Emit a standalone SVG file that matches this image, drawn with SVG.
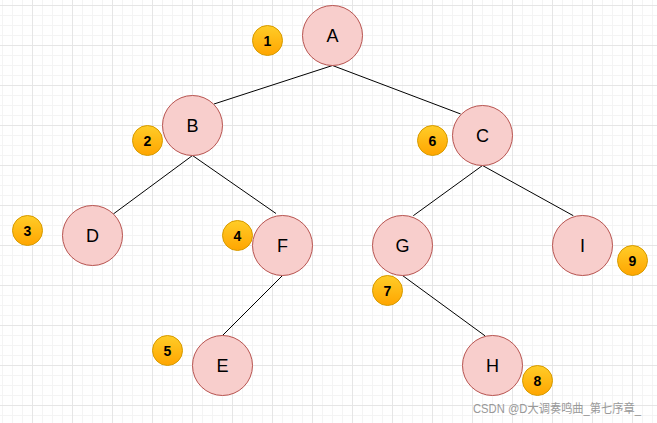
<svg xmlns="http://www.w3.org/2000/svg" width="657" height="423" viewBox="0 0 657 423">
<style>
.node circle{fill:#f8cecc;stroke:#b85450;stroke-width:1}
.node text{font-family:"Liberation Sans",Arial,sans-serif;font-size:18px;fill:#000;text-anchor:middle;dominant-baseline:central}
.badge circle{fill:url(#og);stroke:#d79b00;stroke-width:1}
.badge text{font-family:"Liberation Sans",Arial,sans-serif;font-size:14px;font-weight:bold;fill:#000;text-anchor:middle;dominant-baseline:central}
#edges line{stroke:#000;stroke-width:1}
.wm{font-family:"Liberation Sans","Noto Sans CJK SC",sans-serif;font-size:12px;fill:#999}
</style>
<defs>
<linearGradient id="og" x1="0" y1="0" x2="0" y2="1">
<stop offset="0" stop-color="#ffcd28"/>
<stop offset="1" stop-color="#ffa500"/>
</linearGradient>
<pattern id="grid" patternUnits="userSpaceOnUse" x="32" y="5" width="40" height="40">
<path d="M10.5 0V40M20.5 0V40M30.5 0V40M0 10.5H40M0 20.5H40M0 30.5H40" stroke="#f4f4f4" stroke-width="1" fill="none"/>
<path d="M0.5 0V40M0 0.5H40" stroke="#e6e6e6" stroke-width="1" fill="none"/>
</pattern>
</defs>
<rect width="657" height="423" fill="#fff"/>
<rect width="657" height="423" fill="url(#grid)"/>
<g id="edges">
<line x1="332.5" y1="65.5" x2="214" y2="104"/>
<line x1="332.5" y1="65.5" x2="460.7" y2="114"/>
<line x1="192.5" y1="155.5" x2="113.3" y2="214"/>
<line x1="192.5" y1="155.5" x2="276" y2="213.5"/>
<line x1="482.5" y1="165.5" x2="413.3" y2="215.7"/>
<line x1="482.5" y1="165.5" x2="573.3" y2="215.7"/>
<line x1="282.5" y1="275.5" x2="222.5" y2="335.5"/>
<line x1="402.5" y1="275.5" x2="485" y2="335.8"/>
</g>
<g id="node-A" class="node"><circle cx="332.5" cy="35.5" r="30"/><text x="332.5" y="35.5">A</text></g>
<g id="node-B" class="node"><circle cx="192.5" cy="125.5" r="30"/><text x="192.5" y="125.5">B</text></g>
<g id="node-C" class="node"><circle cx="482.5" cy="135.5" r="30"/><text x="482.5" y="135.5">C</text></g>
<g id="node-D" class="node"><circle cx="92.5" cy="235.5" r="30"/><text x="92.5" y="235.5">D</text></g>
<g id="node-F" class="node"><circle cx="282.5" cy="245.5" r="30"/><text x="282.5" y="245.5">F</text></g>
<g id="node-G" class="node"><circle cx="402.5" cy="245.5" r="30"/><text x="402.5" y="245.5">G</text></g>
<g id="node-I" class="node"><circle cx="582.5" cy="245.5" r="30"/><text x="582.5" y="245.5">I</text></g>
<g id="node-E" class="node"><circle cx="222.5" cy="365.5" r="30"/><text x="222.5" y="365.5">E</text></g>
<g id="node-H" class="node"><circle cx="492.5" cy="365.5" r="30"/><text x="492.5" y="365.5">H</text></g>
<g id="badge-1" class="badge"><circle cx="267.5" cy="40.5" r="15"/><text x="267.5" y="41">1</text></g>
<g id="badge-2" class="badge"><circle cx="147.5" cy="140.5" r="15"/><text x="147.5" y="141">2</text></g>
<g id="badge-3" class="badge"><circle cx="27.5" cy="230.5" r="15"/><text x="27.5" y="231">3</text></g>
<g id="badge-4" class="badge"><circle cx="237.5" cy="235.5" r="15"/><text x="237.5" y="236">4</text></g>
<g id="badge-5" class="badge"><circle cx="167.5" cy="350.5" r="15"/><text x="167.5" y="351">5</text></g>
<g id="badge-6" class="badge"><circle cx="432.5" cy="140.5" r="15"/><text x="432.5" y="141">6</text></g>
<g id="badge-7" class="badge"><circle cx="387.5" cy="290.5" r="15"/><text x="387.5" y="291">7</text></g>
<g id="badge-8" class="badge"><circle cx="537.5" cy="380.5" r="15"/><text x="537.5" y="381">8</text></g>
<g id="badge-9" class="badge"><circle cx="632.5" cy="260.5" r="15"/><text x="632.5" y="261">9</text></g>
<text class="wm" x="473" y="412.5" textLength="168" lengthAdjust="spacingAndGlyphs">CSDN @D大调奏鸣曲_第七序章_</text>
</svg>
